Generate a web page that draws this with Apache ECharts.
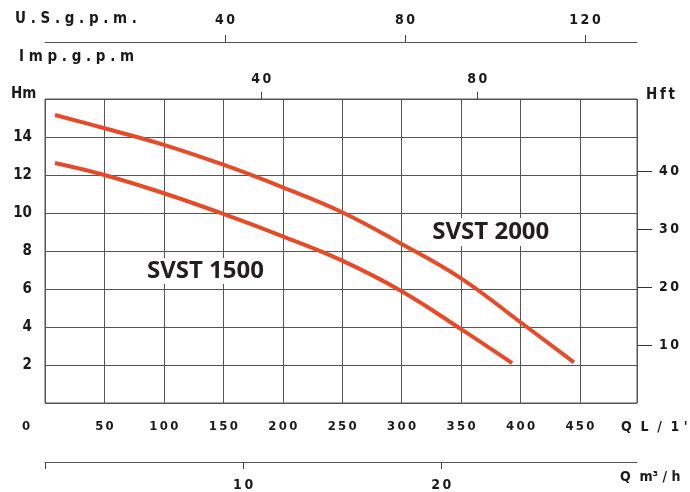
<!DOCTYPE html>
<html><head><meta charset="utf-8">
<script src="https://cdn.jsdelivr.net/npm/echarts@6/dist/echarts.min.js"></script>
<style>html,body{margin:0;padding:0;background:#fff}#c{width:690px;height:492px}</style>
</head><body><div id="c"></div>
<script>
// ---- data ----
const seriesNames = ['SVST 2000', 'SVST 1500'];
const flow_2000 = [8.4, 50, 100, 150, 200, 250, 300, 350, 400, 445];      // L/min
const head_2000 = [15.16, 14.46, 13.59, 12.54, 11.35, 10.04, 8.37, 6.56, 4.25, 2.14]; // m
const flow_1500 = [8.4, 50, 100, 150, 200, 250, 300, 350, 393];
const head_1500 = [12.63, 12.0, 11.04, 9.95, 8.77, 7.49, 5.88, 3.89, 2.1];
const labelAt_2000 = [375, 9.0];
const labelAt_1500 = [135, 6.95];
const ticksLmin = [0, 50, 100, 150, 200, 250, 300, 350, 400, 450];
const ticksUSgpm = [40, 80, 120];
const ticksImpgpm = [40, 80];
const ticksM3h = [10, 20];
const ticksHm = [2, 4, 6, 8, 10, 12, 14];
const ticksHft = [10, 20, 30, 40];
const qMax = 498, hMax = 16;
const L_PER_USG = 3.78541, L_PER_IMPG = 4.54609, L_PER_M3H = 1000 / 60, FT_PER_M = 3.28084;

// ---- styles ----
const ink = '#1a1a1a', gridCol = '#555';
const lblFont = 'DejaVu Sans Condensed';
const sp = s => String(s).split('').join('\u2009');
const wsp = s => String(s).split('').join(' ');
const zip = (a, b) => a.map((v, i) => [v, b[i]]);

const chart = echarts.init(document.getElementById('c'), null, {renderer: 'canvas'});
const baseLabel = {color: ink, fontFamily: lblFont, fontWeight: 'bold', fontSize: 13};

const option = {
  animation: false,
  backgroundColor: '#fff',
  grid: {left: 45, right: 53, top: 99, bottom: 88, show: true, borderColor: gridCol, borderWidth: 1, containLabel: false},
  xAxis: [
    { type: 'value', position: 'bottom', min: 0, max: qMax, interval: 50,
      axisLine: {show: false, onZero: false}, axisTick: {show: false},
      splitLine: {show: true, lineStyle: {color: gridCol, width: 1}},
      axisLabel: Object.assign({}, baseLabel, {
        margin: 17, customValues: ticksLmin,
        formatter: v => v === 0 ? '{z|0}' : sp(v),
        rich: {z: {color: ink, fontFamily: lblFont, fontWeight: 'bold', fontSize: 13, padding: [0, 38, 0, 0]}}
      }) },
    { type: 'value', position: 'top', min: 0, max: qMax / L_PER_IMPG,
      axisLine: {show: false, onZero: false},
      axisTick: {show: true, length: 7, customValues: ticksImpgpm, lineStyle: {color: '#444'}},
      splitLine: {show: false},
      axisLabel: Object.assign({}, baseLabel, {fontSize: 14, margin: 13, customValues: ticksImpgpm, formatter: v => sp(v)}) },
    { type: 'value', position: 'top', offset: 57, min: 0, max: qMax / L_PER_USG,
      axisLine: {show: true, onZero: false, lineStyle: {color: gridCol, width: 1}},
      axisTick: {show: true, length: 7, customValues: ticksUSgpm, lineStyle: {color: '#444'}},
      splitLine: {show: false},
      axisLabel: Object.assign({}, baseLabel, {fontSize: 14, margin: 15, customValues: ticksUSgpm, formatter: v => sp(v)}) },
    { type: 'value', position: 'bottom', offset: 59, min: 0, max: qMax / L_PER_M3H,
      axisLine: {show: true, onZero: false, lineStyle: {color: gridCol, width: 1}},
      axisTick: {show: true, length: 7, customValues: [0].concat(ticksM3h), lineStyle: {color: '#444'}},
      splitLine: {show: false},
      axisLabel: Object.assign({}, baseLabel, {fontSize: 14, margin: 16, customValues: ticksM3h, formatter: v => sp(v)}) }
  ],
  yAxis: [
    { type: 'value', position: 'left', min: 0, max: hMax, interval: 2,
      axisLine: {show: false, onZero: false}, axisTick: {show: false},
      splitLine: {show: true, lineStyle: {color: gridCol, width: 1}},
      axisLabel: Object.assign({}, baseLabel, {fontSize: 15, margin: 13, customValues: ticksHm}) },
    { type: 'value', position: 'right', min: 0, max: hMax * FT_PER_M,
      axisLine: {show: false, onZero: false},
      axisTick: {show: true, length: 15, customValues: ticksHft, lineStyle: {color: '#333'}},
      splitLine: {show: false},
      axisLabel: Object.assign({}, baseLabel, {fontSize: 14, margin: 22, customValues: ticksHft, formatter: v => sp(v)}) }
  ],
  series: [
    { name: seriesNames[0], type: 'line', xAxisIndex: 0, yAxisIndex: 0, smooth: 0.4,
      symbol: 'none', data: zip(flow_2000, head_2000),
      lineStyle: {color: '#E84A27', width: 4},
      markPoint: { symbol: 'circle', symbolSize: 1, itemStyle: {color: 'rgba(0,0,0,0)'},
        label: {show: true, position: 'inside', formatter: seriesNames[0], color: '#231f20',
          fontFamily: 'Open Sans', fontWeight: 'bold', fontSize: 24, backgroundColor: '#fff', padding: [2, 5]},
        data: [{coord: labelAt_2000}] } },
    { name: seriesNames[1], type: 'line', xAxisIndex: 0, yAxisIndex: 0, smooth: 0.4,
      symbol: 'none', data: zip(flow_1500, head_1500),
      lineStyle: {color: '#E84A27', width: 4},
      markPoint: { symbol: 'circle', symbolSize: 1, itemStyle: {color: 'rgba(0,0,0,0)'},
        label: {show: true, position: 'inside', formatter: seriesNames[1], color: '#231f20',
          fontFamily: 'Open Sans', fontWeight: 'bold', fontSize: 24, backgroundColor: '#fff', padding: [1, 3]},
        data: [{coord: labelAt_1500}] } }
  ],
  graphic: [
    {type: 'text', left: 15, top: 12, style: {text: wsp('U.S.g.p.m.'), font: 'bold 15px "DejaVu Sans Condensed"', fill: ink}},
    {type: 'text', left: 19, top: 50, style: {text: wsp('Imp.g.p.m'), font: 'bold 15px "DejaVu Sans Condensed"', fill: ink}},
    {type: 'text', left: 11, top: 87, style: {text: 'Hm', font: 'bold 15px "DejaVu Sans Condensed"', fill: ink}},
    {type: 'text', left: 646, top: 88, style: {text: sp('Hft'), font: 'bold 15px "DejaVu Sans Condensed"', fill: ink}},
    {type: 'text', left: 621, top: 420, style: {text: "Q  L  /  1 '", font: 'bold 14px "DejaVu Sans Condensed"', fill: ink}},
    {type: 'text', left: 620, top: 470, style: {text: 'Q  m\u00B3 / h', font: 'bold 14px "DejaVu Sans Condensed"', fill: ink}}
  ]
};
chart.setOption(option);
</script>
</body></html>
